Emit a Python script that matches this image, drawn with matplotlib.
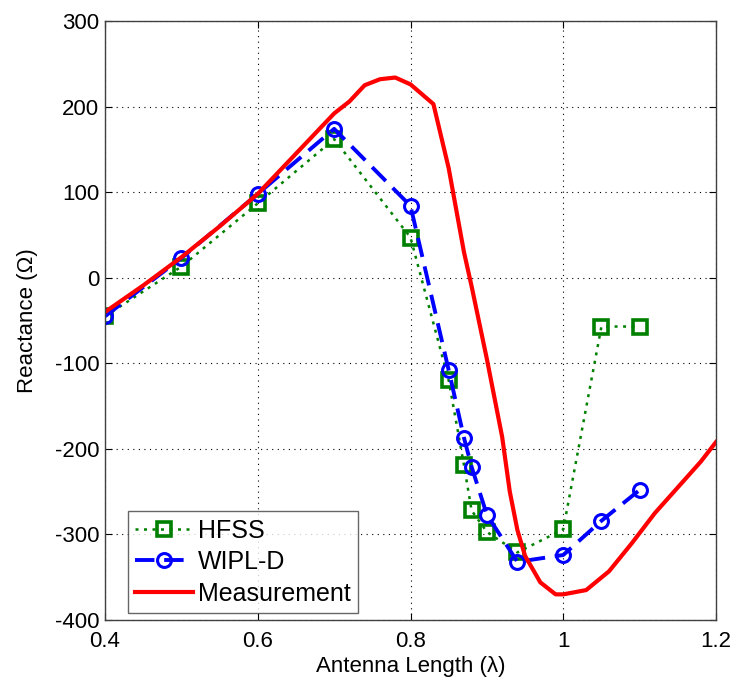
import matplotlib
matplotlib.use("Agg")
import matplotlib.pyplot as plt

plt.rcParams['font.family'] = ['Liberation Sans', 'DejaVu Sans']

hfss_x = [0.4, 0.5, 0.6, 0.7, 0.8, 0.85, 0.87, 0.88, 0.9, 0.94, 1.0, 1.05, 1.1]
hfss_y = [-45, 13, 87, 162, 47, -120, -219, -272, -297, -321, -294, -57, -57]

wipl_x = [0.4, 0.5, 0.6, 0.7, 0.8, 0.85, 0.87, 0.88, 0.9, 0.94, 1.0, 1.05, 1.1]
wipl_y = [-45, 23, 98, 174, 84, -108, -187, -221, -277, -332, -324, -284, -248]

meas_x = [0.4, 0.45, 0.5, 0.55, 0.6, 0.65, 0.7, 0.72, 0.74, 0.76, 0.78, 0.8, 0.83,
          0.85, 0.87, 0.88, 0.9, 0.92, 0.93, 0.94, 0.95, 0.97, 0.99, 1.0, 1.03,
          1.06, 1.09, 1.12, 1.15, 1.18, 1.2]
meas_y = [-40, -9, 24, 60, 98, 145, 192, 206, 225, 232, 234, 226, 203,
          128, 30, -10, -95, -186, -250, -295, -325, -356, -370, -370, -365,
          -343, -310, -275, -245, -215, -192]

xticks = [0.4, 0.6, 0.8, 1.0, 1.2]
xticklabels = ['0.4', '0.6', '0.8', '1', '1.2']
yticks = [-400, -300, -200, -100, 0, 100, 200, 300]
yticklabels = ['-400', '-300', '-200', '-100', '0', '100', '200', '300']

fig = plt.figure(figsize=(7.37, 6.88), dpi=100)
ax = fig.add_axes([0.1425, 0.0988, 0.829, 0.8706])

ax.plot(hfss_x, hfss_y, linestyle=(0, (1.2, 2.2)), color=(0, 0.5, 0), lw=1.8, marker='s',
        markersize=9.5, markerfacecolor='none', markeredgewidth=2.6, label='HFSS')
ax.plot(wipl_x, wipl_y, linestyle=(0, (5, 2.5)), color='#0000ff', lw=2.8, marker='o',
        markersize=10, markerfacecolor='none', markeredgewidth=2.2, label='WIPL-D')
ax.plot(meas_x, meas_y, '-', color='#ff0000', lw=3, label='Measurement')

ax.set_xlim(0.4, 1.2)
ax.set_ylim(-400, 300)
ax.set_xticks(xticks)
ax.set_xticklabels(xticklabels)
ax.set_yticks(yticks)
ax.set_yticklabels(yticklabels)
ax.tick_params(direction='in', labelsize=16, length=5, top=True, right=True)
ax.tick_params(axis='x', pad=8)
ax.tick_params(axis='y', pad=4)
ax.grid(True, linestyle=(0, (1, 4)), color='black', lw=0.8)
for s in ax.spines.values():
    s.set_color('#404040')
    s.set_linewidth(1)

ax.set_xlabel('Antenna Length (\u03bb)', fontsize=16, labelpad=3)
ax.set_ylabel('Reactance (\u03a9)', fontsize=16, labelpad=12)

leg = ax.legend(loc='lower left', bbox_to_anchor=(0.0376, 0.0117), borderaxespad=0,
                fontsize=18, frameon=True, fancybox=False,
                edgecolor='#404040', handlelength=2.3,
                handletextpad=0.2, labelspacing=0.3, borderpad=0.3)
leg.get_frame().set_linewidth(1)

fig.savefig('out.png', dpi=100)
